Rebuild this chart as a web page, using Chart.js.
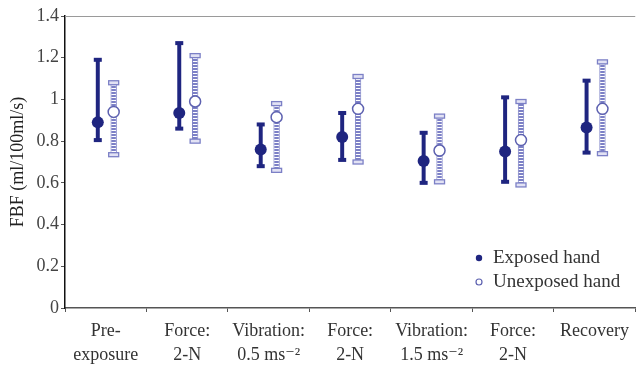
<!DOCTYPE html>
<html>
<head>
<meta charset="utf-8">
<script src="https://cdn.jsdelivr.net/npm/chart.js@4/dist/chart.umd.min.js"></script>
<style>
  html, body { margin: 0; padding: 0; background: #fff; }
  #wrap { width: 637px; height: 367px; position: relative; }
</style>
</head>
<body>
<div id="wrap"><canvas id="fbfChart"></canvas></div>
<script>
const categories = [
    ['Pre-', 'exposure'],
    ['Force:', '2-N'],
    ['Vibration:', '0.5 ms\u207B\u00B2'],
    ['Force:', '2-N'],
    ['Vibration:', '1.5 ms\u207B\u00B2'],
    ['Force:', '2-N'],
    'Recovery'
];

const exposedMean = [0.89, 0.935, 0.76, 0.82, 0.705, 0.75, 0.865];
const exposedLow  = [0.805, 0.86, 0.68, 0.71, 0.60, 0.605, 0.745];
const exposedHigh = [1.19, 1.27, 0.88, 0.935, 0.84, 1.01, 1.09];

const unexposedMean = [0.94, 0.99, 0.915, 0.955, 0.755, 0.805, 0.955];
const unexposedLow  = [0.735, 0.80, 0.66, 0.70, 0.605, 0.59, 0.74];
const unexposedHigh = [1.08, 1.21, 0.98, 1.11, 0.92, 0.99, 1.18];

const yTicks = [0, 0.2, 0.4, 0.6, 0.8, 1, 1.2, 1.4];

const NAVY = '#1f2580';
const LAVENDER = '#7c80c6';
const SERIF = "'Liberation Serif', 'DejaVu Serif', serif";

// striped fill for the unexposed whiskers
function stripePattern() {
    const c = document.createElement('canvas');
    c.width = 4; c.height = 3;
    const g = c.getContext('2d');
    g.fillStyle = LAVENDER;
    g.fillRect(0, 0, 4, 3);
    g.fillStyle = '#ffffff';
    g.fillRect(0, 1, 4, 1);
    return g.createPattern(c, 'repeat');
}

// caps, means, frame line and legend
const errorBarPlugin = {
    id: 'errorBars',
    afterDatasetsDraw(chart) {
        const ctx = chart.ctx;
        const y = chart.scales.y;
        const area = chart.chartArea;
        ctx.save();

        // top frame line
        ctx.strokeStyle = '#9a9a9a';
        ctx.lineWidth = 1.2;
        ctx.beginPath();
        ctx.moveTo(area.left, area.top + 0.5);
        ctx.lineTo(area.right, area.top + 0.5);
        ctx.stroke();

        const sets = [
            { idx: 0, mean: exposedMean, low: exposedLow, high: exposedHigh, open: false },
            { idx: 1, mean: unexposedMean, low: unexposedLow, high: unexposedHigh, open: true }
        ];
        sets.forEach(s => {
            const meta = chart.getDatasetMeta(s.idx);
            meta.data.forEach((bar, i) => {
                const x = bar.x;
                [s.low[i], s.high[i]].forEach(v => {
                    const py = y.getPixelForValue(v);
                    if (s.open) {
                        ctx.fillStyle = '#e2e2f4';
                        ctx.strokeStyle = LAVENDER;
                        ctx.lineWidth = 1.3;
                        ctx.fillRect(x - 5, py - 2, 10, 4);
                        ctx.strokeRect(x - 5, py - 2, 10, 4);
                    } else {
                        ctx.fillStyle = NAVY;
                        ctx.fillRect(x - 4, py - 2, 8, 4);
                    }
                });
                const my = y.getPixelForValue(s.mean[i]);
                ctx.beginPath();
                if (s.open) {
                    ctx.arc(x, my, 5.5, 0, Math.PI * 2);
                    ctx.fillStyle = '#ffffff';
                    ctx.fill();
                    ctx.strokeStyle = '#5d61b0';
                    ctx.lineWidth = 1.5;
                    ctx.stroke();
                } else {
                    ctx.arc(x, my, 6, 0, Math.PI * 2);
                    ctx.fillStyle = NAVY;
                    ctx.fill();
                }
            });
        });

        // legend
        ctx.font = '19px ' + SERIF;
        ctx.textBaseline = 'middle';
        ctx.beginPath();
        ctx.arc(479, 258, 3.2, 0, Math.PI * 2);
        ctx.fillStyle = NAVY;
        ctx.fill();
        ctx.beginPath();
        ctx.arc(479, 282, 3, 0, Math.PI * 2);
        ctx.strokeStyle = '#5d61b0';
        ctx.lineWidth = 1.2;
        ctx.stroke();
        ctx.fillStyle = '#333';
        ctx.fillText('Exposed hand', 493, 258);
        ctx.fillText('Unexposed hand', 493, 282);
        ctx.restore();
    }
};

new Chart(document.getElementById('fbfChart'), {
    type: 'bar',
    data: {
        labels: categories,
        datasets: [
            {
                label: 'Exposed hand',
                data: exposedLow.map((v, i) => [v, exposedHigh[i]]),
                backgroundColor: NAVY,
                borderWidth: 0,
                barPercentage: 0.25
            },
            {
                label: 'Unexposed hand',
                data: unexposedLow.map((v, i) => [v, unexposedHigh[i]]),
                backgroundColor: stripePattern(),
                borderColor: LAVENDER,
                borderWidth: { left: 1, right: 1, top: 0, bottom: 0 },
                borderSkipped: false,
                barPercentage: 0.4
            }
        ]
    },
    options: {
        responsive: true,
        maintainAspectRatio: false,
        animation: false,
        layout: { padding: { top: 16, right: 0, left: 0, bottom: 0 } },
        datasets: { bar: { categoryPercentage: 0.39 } },
        scales: {
            x: {
                offset: true,
                grid: {
                    offset: true,
                    drawOnChartArea: false,
                    drawTicks: true,
                    tickLength: 4,
                    color: '#555'
                },
                border: { color: '#555', width: 1.5 },
                ticks: {
                    color: '#333',
                    font: { family: SERIF, size: 18, lineHeight: 1.3 },
                    maxRotation: 0,
                    autoSkip: false,
                    padding: 8
                },
                afterFit(scale) { scale.height = 59; }
            },
            y: {
                min: 0,
                max: 1.4,
                afterBuildTicks(scale) { scale.ticks = yTicks.map(v => ({ value: v })); },
                grid: {
                    drawOnChartArea: false,
                    drawTicks: true,
                    tickLength: 4,
                    color: '#555'
                },
                border: { color: '#111', width: 1.5 },
                ticks: {
                    color: '#444',
                    font: { family: SERIF, size: 18 },
                    padding: 2,
                    callback: v => String(v)
                },
                title: {
                    display: true,
                    text: 'FBF (ml/100ml/s)',
                    color: '#222',
                    font: { family: SERIF, size: 18 },
                    padding: { top: 7, bottom: 0 }
                },
                afterFit(scale) { scale.width = 65; }
            }
        },
        plugins: {
            legend: { display: false },
            tooltip: { enabled: false }
        }
    },
    plugins: [errorBarPlugin]
});
</script>
</body>
</html>
